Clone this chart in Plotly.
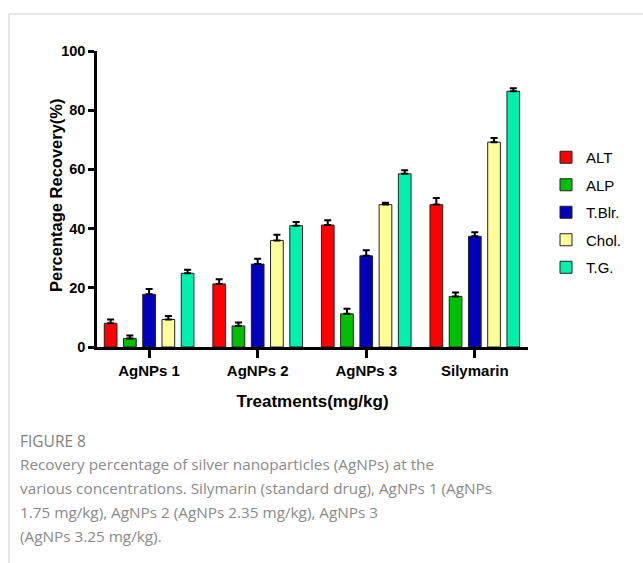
import plotly.graph_objects as go

categories = ["AgNPs 1", "AgNPs 2", "AgNPs 3", "Silymarin"]
series_names = ["ALT", "ALP", "T.Blr.", "Chol.", "T.G."]
alt = [8.0, 21.3, 41.2, 48.1]
alp = [2.9, 7.1, 11.2, 17.1]
tblr = [17.8, 28.0, 30.8, 37.4]
chol = [9.3, 36.0, 48.1, 69.2]
tg = [24.9, 41.0, 58.5, 86.4]
alt_err = [1.3, 1.6, 1.6, 2.2]
alp_err = [1.0, 1.2, 1.7, 1.3]
tblr_err = [1.8, 1.8, 1.9, 1.4]
chol_err = [1.2, 1.9, 0.6, 1.4]
tg_err = [1.2, 1.2, 1.2, 1.0]
y_ticks = [0, 20, 40, 60, 80, 100]

values = [alt, alp, tblr, chol, tg]
errors = [alt_err, alp_err, tblr_err, chol_err, tg_err]
colors = ["#FF0000", "#00BF00", "#0000BD", "#FFFF99", "#00F0AE"]

W, H = 643, 563
L, R, T, B = 97, 115, 51, 216
pw, ph = W - L - R, H - T - B


def px(x):
    return (x - L) / pw


def py(y):
    return (H - B - y) / ph


fig = go.Figure()
for name, vals, errs, col in zip(series_names, values, errors, colors):
    fig.add_trace(go.Bar(
        name=name, x=categories, y=vals, legendgroup=name,
        marker=dict(color=col, line=dict(color="#222222", width=1)),
        error_y=dict(type="data", array=errs, arrayminus=[0] * len(errs), symmetric=False,
                     color="black", thickness=2, width=3.5),
    ))

font_family = "Liberation Sans, Arial, sans-serif"
fig.update_layout(
    width=W, height=H,
    margin=dict(l=L, r=R, t=T, b=B),
    paper_bgcolor="white", plot_bgcolor="white",
    barmode="group", bargap=0.114, bargroupgap=0.34,
    font=dict(family=font_family, color="black"),
    showlegend=True,
    legend=dict(x=px(546), y=py(141), xanchor="left", yanchor="top",
                traceorder="grouped",
                font=dict(size=15, family=font_family, color="black"),
                tracegroupgap=5, bgcolor="rgba(0,0,0,0)"),
    xaxis=dict(range=[-0.48, 3.49], showline=True, linecolor="black", linewidth=2.5,
               ticks="outside", ticklen=8, tickwidth=2.5, tickcolor="black",
               tickfont=dict(size=15, family=font_family, color="black", weight="bold"),
               showgrid=False, zeroline=False,
               title=dict(text="<b>Treatments(mg/kg)</b>", font=dict(size=17, family=font_family),
                          standoff=18)),
    yaxis=dict(range=[0, 100], tickvals=y_ticks, showline=True, linecolor="black", linewidth=2.5,
               ticks="outside", ticklen=6, tickwidth=2.5, tickcolor="black",
               tickfont=dict(size=14.5, family=font_family, color="black", weight="bold"),
               showgrid=False, zeroline=False),
)

fig.add_annotation(text="<b>Percentage Recovery(%)</b>", xref="paper", yref="paper",
                   x=px(45), y=py(195), xanchor="left", yanchor="middle",
                   textangle=-90, showarrow=False,
                   font=dict(size=16.5, family=font_family, color="black"))

cap_font = "Open Sans, Noto Sans, sans-serif"
fig.add_annotation(text="FIGURE 8", xref="paper", yref="paper", x=px(18), y=py(441),
                   xanchor="left", yanchor="middle", showarrow=False,
                   font=dict(size=15.5, family=cap_font, color="#808080"))
cap_lines = [
    "Recovery percentage of silver nanoparticles (AgNPs) at the",
    "various concentrations. Silymarin (standard drug), AgNPs 1 (AgNPs",
    "1.75 mg/kg), AgNPs 2 (AgNPs 2.35 mg/kg), AgNPs 3",
    "(AgNPs 3.25 mg/kg).",
]
for i, line in enumerate(cap_lines):
    fig.add_annotation(text=line, xref="paper", yref="paper", x=px(18), y=py(464 + 24 * i),
                       xanchor="left", yanchor="middle", showarrow=False,
                       font=dict(size=15.3, family=cap_font, color="#8a8a8a"))

# card frame
fig.add_shape(type="line", xref="paper", yref="paper", x0=px(9), x1=px(643), y0=py(14), y1=py(14),
              line=dict(color="#cccccc", width=1))
fig.add_shape(type="line", xref="paper", yref="paper", x0=px(9), x1=px(9), y0=py(14), y1=py(563),
              line=dict(color="#cccccc", width=1))

fig.write_html("out.html", config={"displayModeBar": False},
               post_script="document.body.style.margin='0';")
